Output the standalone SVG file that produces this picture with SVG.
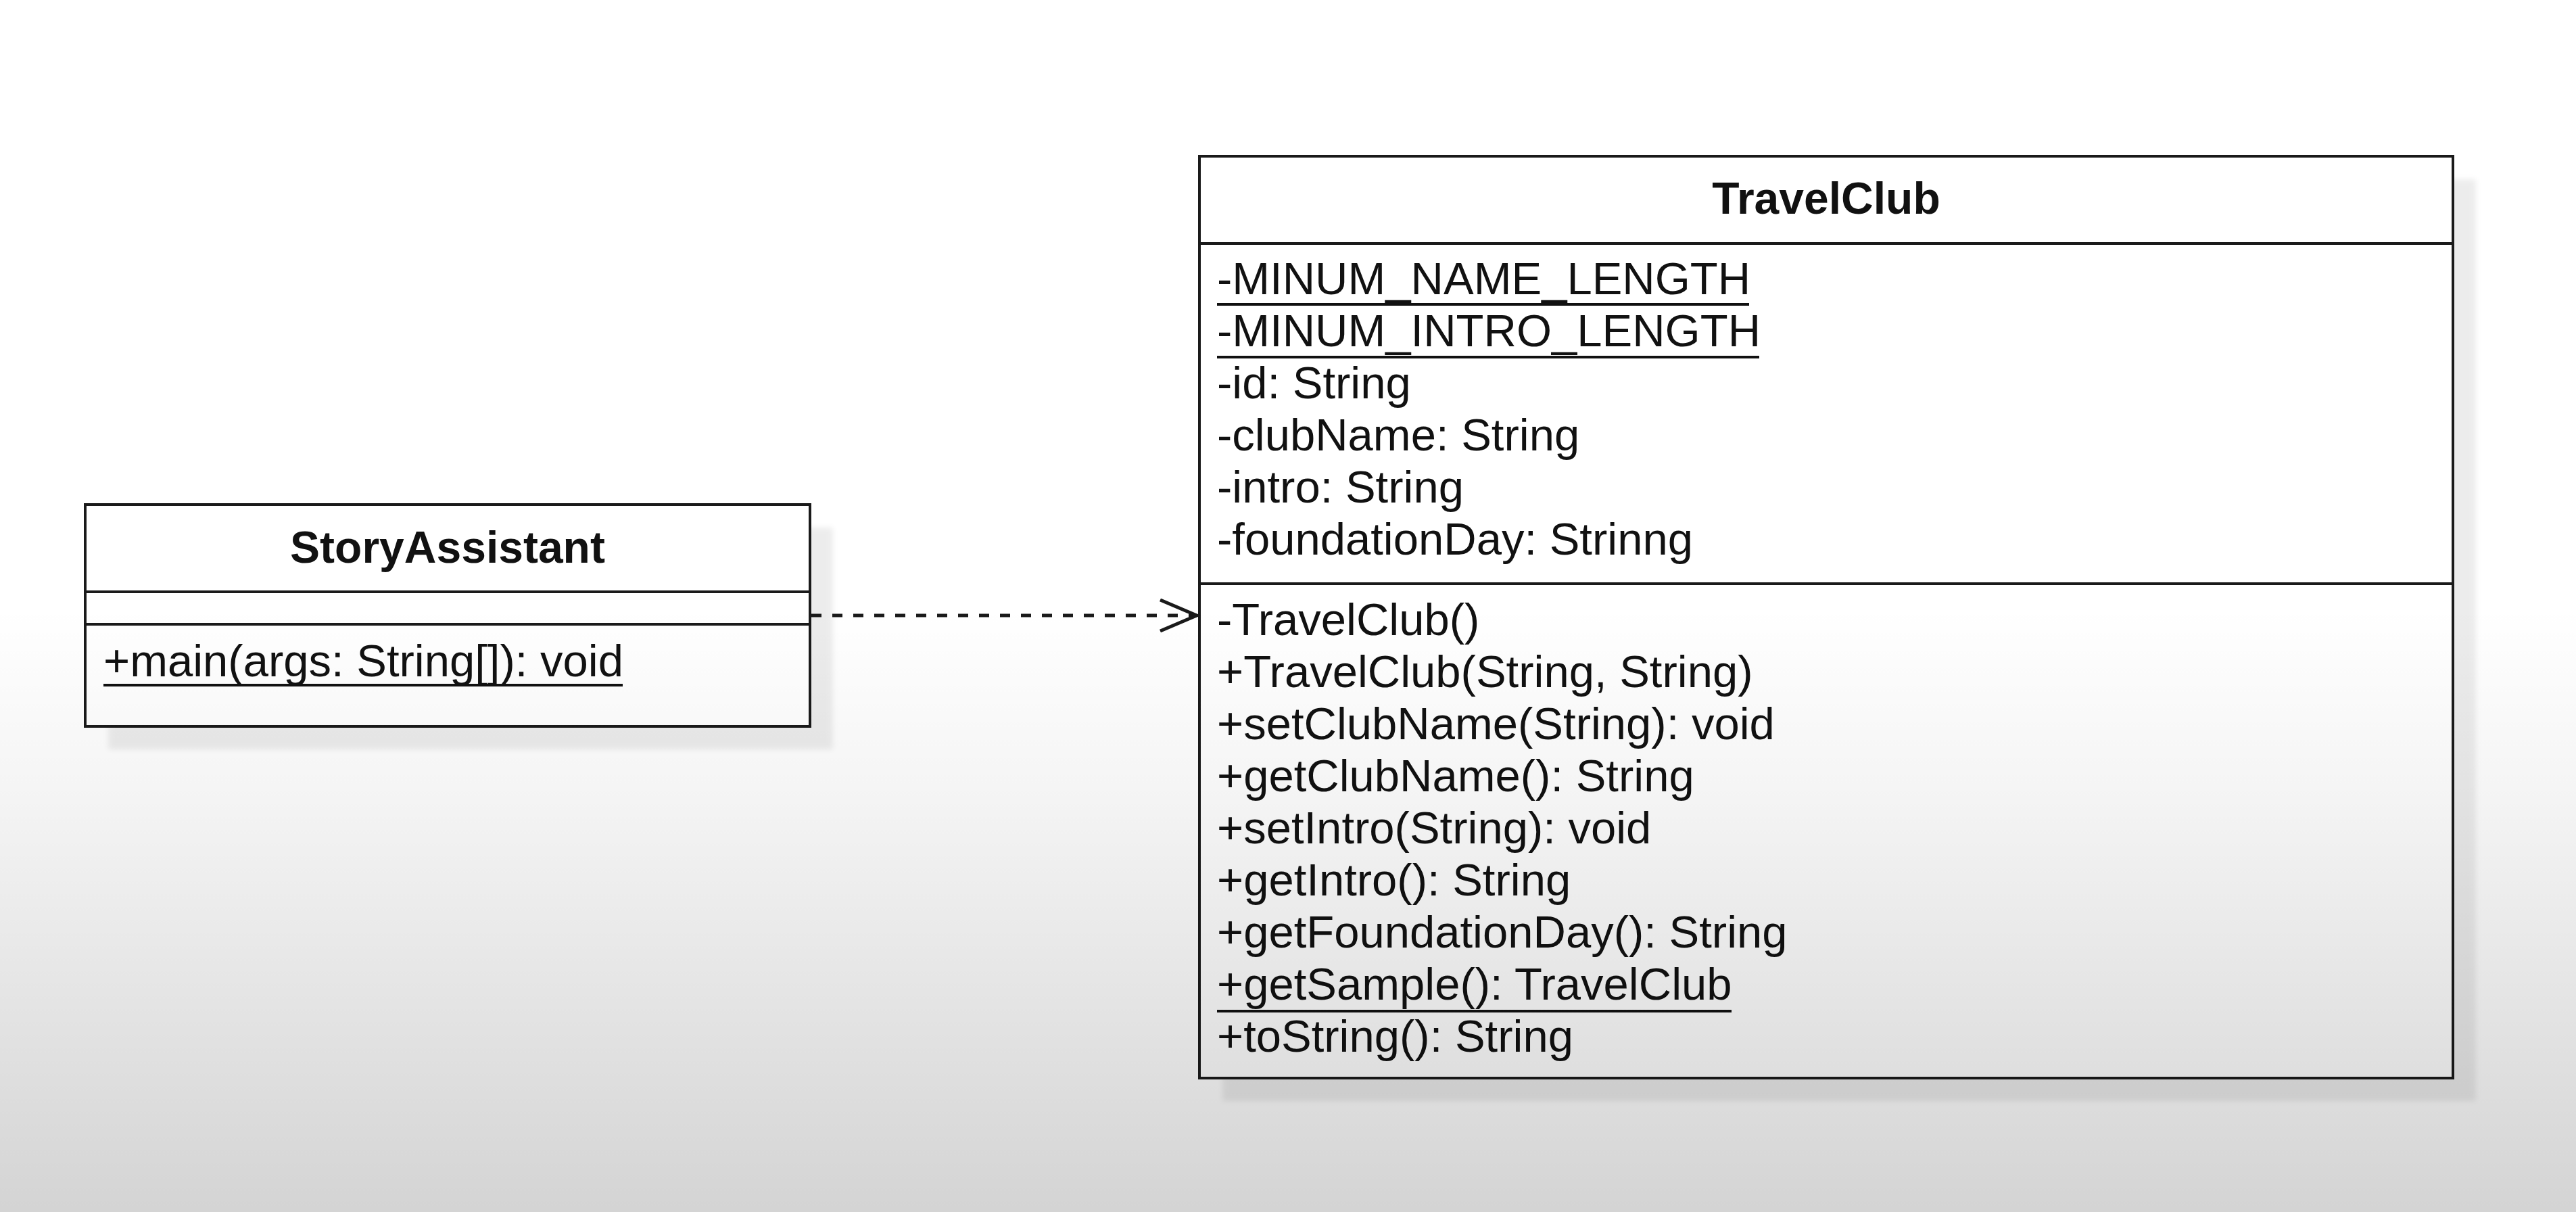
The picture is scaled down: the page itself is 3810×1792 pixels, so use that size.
<svg xmlns="http://www.w3.org/2000/svg" width="3810" height="1792" viewBox="0 0 3810 1792">
<defs>
<style>
.box{fill:#ffffff;stroke:#1a1a1a;stroke-width:4}
.div{stroke:#1a1a1a;stroke-width:4}
.shadow{fill:#000;opacity:0.07}
.title{font-family:"Liberation Sans",Arial,sans-serif;font-weight:bold;font-size:66px;fill:#111;text-anchor:middle}
.t{font-family:"Liberation Sans",Arial,sans-serif;font-size:67px;fill:#111}
.ul{stroke:#111;stroke-width:4}
.dep{fill:none;stroke:#1a1a1a;stroke-width:5;stroke-dasharray:15 16}
</style>
<filter id="blur" x="-5%" y="-5%" width="110%" height="110%"><feGaussianBlur stdDeviation="4"/></filter>
<marker id="open" markerUnits="userSpaceOnUse" markerWidth="70" markerHeight="60" refX="56" refY="25" orient="auto">
<path d="M2,2 L56,25 L2,48" fill="none" stroke="#1a1a1a" stroke-width="5"/>
</marker>
<linearGradient id="vig" x1="0" y1="0" x2="0" y2="1792" gradientUnits="userSpaceOnUse">
<stop offset="0" stop-color="#000" stop-opacity="0"/>
<stop offset="0.5" stop-color="#000" stop-opacity="0"/>
<stop offset="0.65" stop-color="#000" stop-opacity="0.04"/>
<stop offset="1" stop-color="#000" stop-opacity="0.17"/>
</linearGradient>
</defs>
<rect x="0" y="0" width="3810" height="1792" fill="#ffffff"/>

<g id="StoryAssistant">
<rect class="shadow" x="160" y="780" width="1072" height="328" filter="url(#blur)"/>
<rect class="box" x="126" y="746" width="1072" height="328"/>
<line class="div" x1="126" y1="875" x2="1198" y2="875"/>
<line class="div" x1="126" y1="923" x2="1198" y2="923"/>
<text class="title" x="662" y="832">StoryAssistant</text>
<text class="t" x="153" y="1000">+main(args: String[]): void</text>
<line class="ul" x1="153" y1="1013" x2="921" y2="1013"/>
</g>

<g id="TravelClub">
<rect class="shadow" x="1808" y="265" width="1854" height="1363" filter="url(#blur)"/>
<rect class="box" x="1774" y="231" width="1854" height="1363"/>
<line class="div" x1="1774" y1="360" x2="3628" y2="360"/>
<line class="div" x1="1774" y1="863" x2="3628" y2="863"/>
<text class="title" x="2701" y="316">TravelClub</text>
<text class="t" x="1800" y="435">-MINUM_NAME_LENGTH</text>
<line class="ul" x1="1800" y1="450" x2="2587" y2="450"/>
<text class="t" x="1800" y="512">-MINUM_INTRO_LENGTH</text>
<line class="ul" x1="1800" y1="528" x2="2602" y2="528"/>
<text class="t" x="1800" y="589">-id: String</text>
<text class="t" x="1800" y="666">-clubName: String</text>
<text class="t" x="1800" y="743">-intro: String</text>
<text class="t" x="1800" y="820">-foundationDay: Strinng</text>
<text class="t" x="1800" y="939">-TravelClub()</text>
<text class="t" x="1800" y="1016">+TravelClub(String, String)</text>
<text class="t" x="1800" y="1093">+setClubName(String): void</text>
<text class="t" x="1800" y="1170">+getClubName(): String</text>
<text class="t" x="1800" y="1247">+setIntro(String): void</text>
<text class="t" x="1800" y="1324">+getIntro(): String</text>
<text class="t" x="1800" y="1401">+getFoundationDay(): String</text>
<text class="t" x="1800" y="1478">+getSample(): TravelClub</text>
<line class="ul" x1="1800" y1="1495" x2="2561" y2="1495"/>
<text class="t" x="1800" y="1555">+toString(): String</text>
</g>

<g id="connectors">
<line class="dep" x1="1200" y1="910" x2="1770" y2="910" marker-end="url(#open)"/>
</g>

<rect x="0" y="0" width="3810" height="1792" fill="url(#vig)" pointer-events="none"/>
</svg>
